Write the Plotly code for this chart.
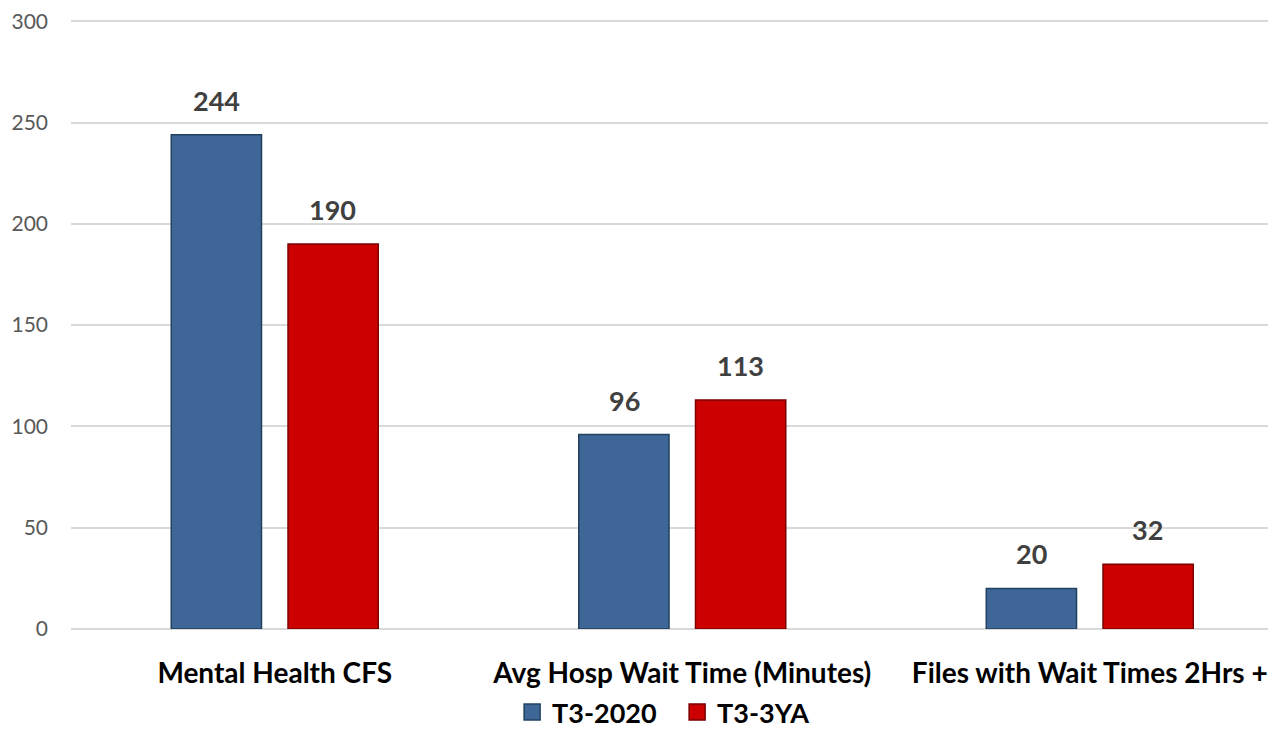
import plotly.graph_objects as go

categories = ["Mental Health CFS", "Avg Hosp Wait Time (Minutes)", "Files with Wait Times 2Hrs +"]
series_names = ["T3-2020", "T3-3YA"]
t3_2020 = [244, 96, 20]
t3_3ya = [190, 113, 32]
y_ticks = [0, 50, 100, 150, 200, 250, 300]

colors = {"T3-2020": ("#3E6696", "#22405F"), "T3-3YA": ("#CC0000", "#7A0000")}
label_shift = {"T3-2020": -58, "T3-3YA": 58}

fig = go.Figure()
for name, vals in zip(series_names, [t3_2020, t3_3ya]):
    fill, line = colors[name]
    fig.add_trace(go.Bar(
        x=categories, y=vals, name=name, showlegend=False,
        marker=dict(color=fill, line=dict(color=line, width=1.5)),
        cliponaxis=False,
    ))
    for c, v in zip(categories, vals):
        fig.add_annotation(x=c, y=v, xref="x", yref="y", text=str(v), showarrow=False,
                           xshift=label_shift[name], yshift=16, yanchor="bottom",
                           font=dict(family="Lato", size=27, color="#404040", weight="bold"))
    # legend entry with a larger square symbol
    fig.add_trace(go.Scatter(x=[None], y=[None], mode="markers", name=name,
                             marker=dict(symbol="square", size=19, color=fill,
                                         line=dict(color=line, width=1.5))))

fig.update_layout(
    width=1268, height=736, autosize=False,
    margin=dict(l=63, r=0, t=10, b=115),
    paper_bgcolor="white", plot_bgcolor="white",
    barmode="group", bargap=0.427, bargroupgap=0.227,
    font=dict(family="Lato"),
    showlegend=True,
    legend=dict(orientation="h", x=0.503, xanchor="center", y=-0.137, yanchor="middle",
                font=dict(family="Lato", size=27, color="#000000", weight="bold"),
                itemwidth=30, entrywidth=120, traceorder="normal", tracegroupgap=0),
)
fig.update_xaxes(range=[-0.5, 2.457], showgrid=False, showline=False, zeroline=False,
                 ticks="", tickfont=dict(family="Lato", size=28, color="#000000", weight="bold"),
                 ticklabelstandoff=25)
fig.update_yaxes(range=[0, 300.6], tickvals=y_ticks, showgrid=True, gridcolor="#D9D9D9", gridwidth=1.5,
                 zeroline=True, zerolinecolor="#D9D9D9", zerolinewidth=1.5, showline=False,
                 ticks="", tickfont=dict(family="Lato", size=21, color="#595959"),
                 ticklabelstandoff=22, ticklabeloverflow="allow")

fig.write_html("out.html")
